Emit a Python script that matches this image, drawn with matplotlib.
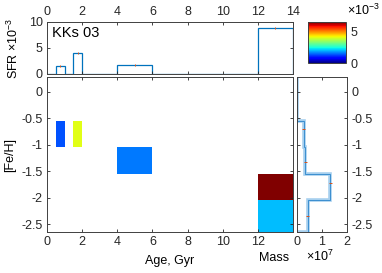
import numpy as np
import matplotlib
matplotlib.use('Agg')
import matplotlib.pyplot as plt
from matplotlib import cm, colors

plt.rcParams['font.family'] = ['Liberation Sans', 'DejaVu Sans']
plt.rcParams['mathtext.fontset'] = 'custom'
plt.rcParams['mathtext.rm'] = 'Liberation Sans'
plt.rcParams['font.size'] = 9
plt.rcParams['axes.edgecolor'] = '#404040'
plt.rcParams['axes.linewidth'] = 0.7
plt.rcParams['xtick.color'] = '#262626'
plt.rcParams['ytick.color'] = '#262626'

# SFR history (x1e-3), age bins in Gyr
sfr_edges = [0, 0.5, 1.0, 1.5, 2.0, 4.0, 6.0, 12.0, 14.0]
sfr_vals = [0, 1.5, 0, 4.0, 0, 1.7, 0, 8.8]
sfr_err_x = [0.75, 1.75, 5.0, 13.0]
sfr_err_y = [1.5, 4.0, 1.7, 8.8]

# age-metallicity cells, colour = SFR (x1e-3)
cell_age_lo = [0.5, 1.5, 4.0, 12.0, 12.0]
cell_age_hi = [1.0, 2.0, 6.0, 14.0, 14.0]
cell_feh_hi = [-0.55, -0.55, -1.05, -1.55, -2.05]
cell_feh_lo = [-1.05, -1.05, -1.55, -2.05, -2.65]
cell_sfr = [1.35, 4.1, 1.6, 6.6, 2.05]

# mass per metallicity bin (x1e7)
feh_edges = [-2.65, -2.05, -1.55, -1.05, -0.55, 0.28]
mass_vals = [0.42, 1.33, 0.33, 0.26, 0]
mass_err_x = [0.27, 0.33, 1.32, 0.42]
mass_err_y = [-0.7, -1.33, -1.72, -2.35]

W, H = 382, 273
fig = plt.figure(figsize=(W / 100, H / 100), dpi=100)


def box(x0, y0, x1, y1):
    return [x0 / W, 1 - y1 / H, (x1 - x0) / W, (y1 - y0) / H]


ax_top = fig.add_axes(box(47, 22, 293, 74))
ax_main = fig.add_axes(box(47, 77, 293, 232))
ax_side = fig.add_axes(box(297, 77, 347, 232))
cax = fig.add_axes(box(308, 22, 346, 63))

for ax in (ax_top, ax_main, ax_side):
    ax.tick_params(direction='in', length=2.5, width=0.6, top=True, right=True, pad=3)

# top panel: SFR
ax_top.stairs(sfr_vals, sfr_edges, color='#0072BD', lw=0.9)
ax_top.errorbar(sfr_err_x, sfr_err_y, yerr=0.15, fmt='none', ecolor='#D95319', lw=0.7)
ax_top.set_xlim(0, 14)
ax_top.set_ylim(0, 10)
ax_top.set_xticks(range(0, 15, 2))
ax_top.set_yticks([0, 5, 10])
ax_top.xaxis.tick_top()
ax_top.tick_params(axis='x', bottom=True, top=True, labelbottom=False, labeltop=True)
ax_top.set_ylabel('SFR $\\times10^{-3}$', labelpad=6)
ax_top.text(0.02, 0.78, 'KKs 03', transform=ax_top.transAxes, fontsize=10.5, va='center')

# main panel
cmap = matplotlib.colormaps['jet']
norm = colors.Normalize(0, 6.6)
lo = np.array(cell_age_lo)
hi = np.array(cell_age_hi)
fl = np.array(cell_feh_lo)
fh = np.array(cell_feh_hi)
ax_main.bar(lo, fh - fl, width=hi - lo, bottom=fl, align='edge',
            color=[cmap(norm(v)) for v in cell_sfr], edgecolor='none')
ax_main.set_xlim(0, 14)
ax_main.set_ylim(-2.65, 0.28)
ax_main.set_xticks(range(0, 13, 2))
ax_main.set_yticks([0, -0.5, -1, -1.5, -2, -2.5])
ax_main.set_yticklabels(['0', '-0.5', '-1', '-1.5', '-2', '-2.5'])
ax_main.set_ylabel('[Fe/H]', labelpad=4)
ax_main.set_xlabel('Age, Gyr', labelpad=5)

# side panel: mass
ax_side.stairs(mass_vals, feh_edges, orientation='horizontal', baseline=0,
               color='#a6cfee', lw=2.6)
ax_side.stairs(mass_vals, feh_edges, orientation='horizontal', baseline=0,
               color='#3b8fd0', lw=0.7)
ax_side.errorbar(mass_err_x, mass_err_y, xerr=0.06, fmt='none', ecolor='#D95319', lw=0.7)
ax_side.set_xlim(0, 2)
ax_side.set_ylim(-2.65, 0.28)
ax_side.set_xticks([0, 1, 2])
ax_side.set_yticks([0, -0.5, -1, -1.5, -2, -2.5])
ax_side.set_yticklabels(['0', '-0.5', '-1', '-1.5', '-2', '-2.5'])
ax_side.yaxis.tick_right()
ax_side.tick_params(axis='y', left=True, right=True, labelleft=False, labelright=True)
fig.text(274 / W, 1 - 258 / H, 'Mass', ha='center', va='center', fontsize=9)
fig.text(320 / W, 1 - 256 / H, '$\\times10^{7}$', ha='center', va='center', fontsize=9)

# colorbar
sm = cm.ScalarMappable(norm=norm, cmap=cmap)
cb = fig.colorbar(sm, cax=cax, ticks=[0, 5])
cb.ax.set_yticklabels(['0', '5'])
cb.ax.tick_params(length=0, labelsize=9, pad=3)
cb.outline.set_edgecolor('#404040')
cb.outline.set_linewidth(0.7)
fig.text(363 / W, 1 - 10 / H, '$\\times10^{-3}$', ha='center', va='center', fontsize=9)

fig.savefig('out.png', dpi=100)
